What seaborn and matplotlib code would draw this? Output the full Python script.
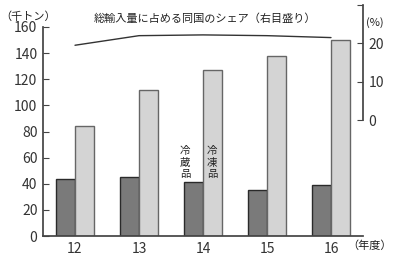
import matplotlib
matplotlib.use("Agg")
import matplotlib.pyplot as plt
import seaborn as sns
import pandas as pd

years = ["12", "13", "14", "15", "16"]
chilled = [44, 45, 41, 35, 39]
frozen = [84, 112, 127, 138, 150]
share = [19.5, 22.0, 22.2, 22.0, 21.5]
left_ticks = [0, 20, 40, 60, 80, 100, 120, 140, 160]
right_ticks = [0, 10, 20, 30]
right_labels = ["0", "10", "20", ""]

sns.set_theme(style="white")
plt.rcParams['font.family'] = ['Noto Sans CJK JP', 'DejaVu Sans']

df = pd.DataFrame({
    "year": years * 2,
    "value": chilled + frozen,
    "type": ["冷蔵品"] * len(years) + ["冷凍品"] * len(years),
})

fig = plt.figure(figsize=(4.0, 2.56), dpi=100)
ax = fig.add_axes([43/400, 20/256, 320/400, 209/256])
sns.barplot(data=df, x="year", y="value", hue="type", width=0.6,
            palette=["#7a7a7a", "#d4d4d4"], ax=ax, legend=False,
            saturation=1)
for i, p in enumerate(ax.patches):
    p.set_edgecolor("#2a2a2a" if i < len(years) else "#666666")
    p.set_linewidth(1.0)
ax.set_xlim(-0.5, 4.5)
ax.set_ylim(0, 160)
ax.set_yticks(left_ticks)
ax.set_yticklabels([str(t) for t in left_ticks], fontsize=10, color="#333333")
ax.set_xticklabels(years, fontsize=10, color="#333333")
ax.set_xlabel("")
ax.set_ylabel("")
for s in ["top", "right"]:
    ax.spines[s].set_visible(False)
ax.spines["left"].set_color("#444444")
ax.spines["bottom"].set_color("#444444")
ax.tick_params(axis="y", direction="in", length=4, width=0.8, color="#444444", pad=4, left=True)
ax.tick_params(axis="x", length=0, pad=4)

ax.text(1.72, 56, "冷\n蔵\n品", fontsize=7.5, ha="center", va="center",
        linespacing=1.2, color="#222222")
ax.text(2.14, 56, "冷\n凍\n品", fontsize=7.5, ha="center", va="center",
        linespacing=1.2, color="#222222")

ax2 = fig.add_axes([43/400, 136/256, 320/400, 115/256])
ax2.patch.set_alpha(0)
sns.lineplot(x=list(range(len(years))), y=share, ax=ax2, color="#333333", linewidth=1.0)
ax2.set_xlim(-0.5, 4.5)
ax2.set_ylim(0, 30)
ax2.set_xticks([])
ax2.yaxis.tick_right()
ax2.set_yticks(right_ticks)
ax2.set_yticklabels(right_labels, fontsize=10, color="#333333")
for s in ["top", "left", "bottom"]:
    ax2.spines[s].set_visible(False)
ax2.spines["right"].set_color("#444444")
ax2.tick_params(axis="y", direction="in", length=4, width=0.8, color="#444444", pad=4, right=True, left=False)

fig.text(28/400, 1 - 17/256, "（千トン）", fontsize=8, ha="center", va="center", color="#222222")
fig.text(375/400, 1 - 23/256, "(%)", fontsize=8, ha="center", va="center", color="#222222")
fig.text(205/400, 1 - 19/256, "総輸入量に占める同国のシェア（右目盛り）", fontsize=8,
         ha="center", va="center", color="#222222")
fig.text(370/400, 1 - 246/256, "（年度）", fontsize=8, ha="center", va="center", color="#222222")

fig.savefig("out.png", dpi=100)
